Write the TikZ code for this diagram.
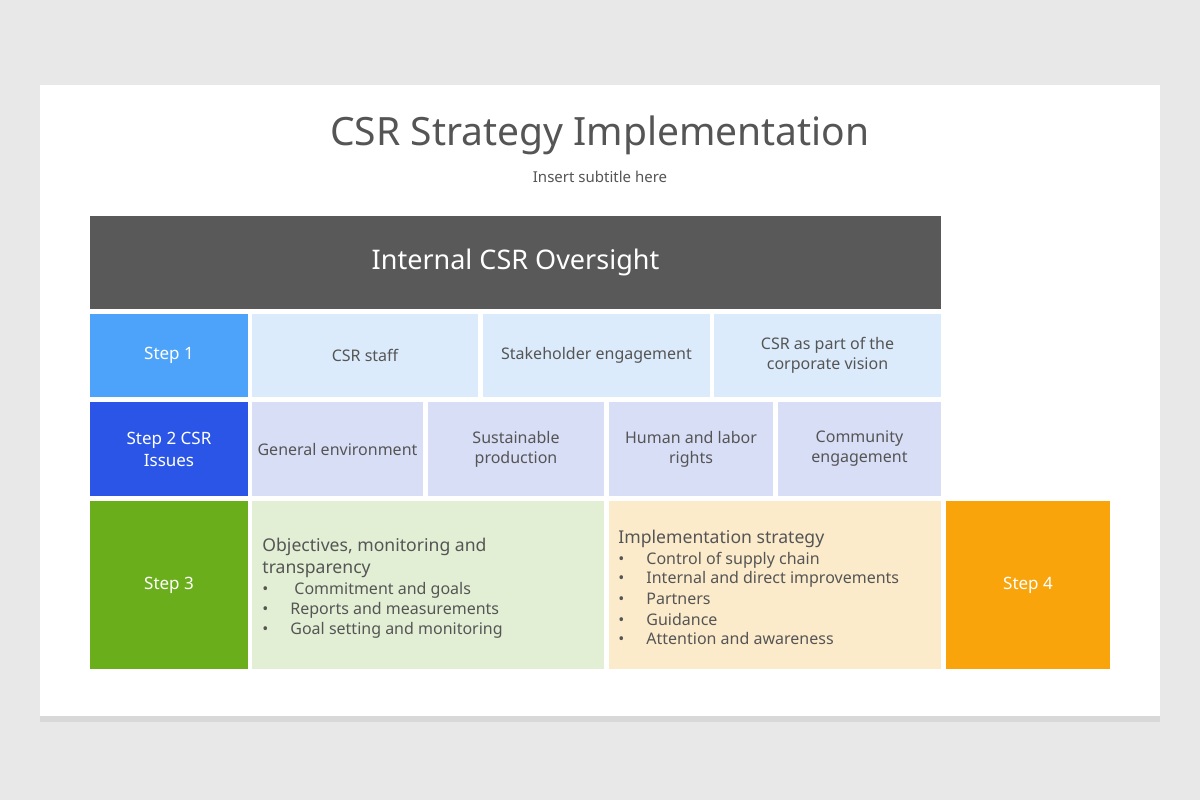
\documentclass[tikz,border=0pt]{standalone}
\usepackage{fontspec}
\setmainfont{Noto Sans}
\usetikzlibrary{shadows}
\definecolor{bg}{HTML}{E9E8E9}
\definecolor{txt}{HTML}{555555}
\definecolor{dark}{HTML}{595959}
\definecolor{s1}{HTML}{4DA3F9}
\definecolor{c1}{HTML}{DCEBFB}
\definecolor{s2}{HTML}{2A55E6}
\definecolor{c2}{HTML}{D9DEF7}
\definecolor{s3}{HTML}{6AAF1B}
\definecolor{g3}{HTML}{E2EFD4}
\definecolor{o3}{HTML}{FCEBCB}
\definecolor{s4}{HTML}{F8A40A}
\tikzset{
  lab/.style={text=txt,font=\fontsize{8}{10}\selectfont,align=center},
  stepbox/.style={text=white,font=\bfseries\fontsize{8.5}{11}\selectfont,align=center},
  li/.style={text=txt,font=\fontsize{8}{10}\selectfont,anchor=west,inner sep=0pt},
  hd/.style={text=txt,font=\bfseries\fontsize{8.8}{11}\selectfont,anchor=west,inner sep=0pt,align=left},
}
\newcommand{\cell}[6]{\fill[#5] (#1,#2) rectangle (#3,#4); \node[#6] at ({(#1+#3)/2},{(#2+#4)/2})}
\begin{document}
\begin{tikzpicture}[x=0.5pt,y=-0.5pt]
\useasboundingbox (0,0) rectangle (1200,800);
\fill[bg] (0,0) rectangle (1200,800);
\fill[white,drop shadow={opacity=0.15,shadow xshift=0pt,shadow yshift=-3pt}] (40,85) rectangle (1160,716);
\node[text=txt,font=\fontsize{19.5}{22}\selectfont] (title) at (600,135) {CSR Strategy Implementation};
\node[text=txt,font=\fontsize{7.5}{9}\selectfont] (sub) at (600,177) {Insert subtitle here};
\cell{90}{216}{941}{309}{dark}{text=white,font=\bfseries\fontsize{13.5}{16}\selectfont} (hdr) {Internal CSR Oversight};
\cell{90}{314}{248}{397}{s1}{stepbox} (st1) {Step 1};
\cell{252}{314}{478}{397}{c1}{lab} (a1) {CSR staff};
\cell{483}{314}{710}{397}{c1}{lab} (a2) {Stakeholder engagement};
\cell{714}{314}{941}{397}{c1}{lab} (a3) {CSR as part of the\\corporate vision};
\cell{90}{402}{248}{496}{s2}{stepbox} (st2) {Step 2 CSR\\Issues};
\cell{252}{402}{423}{496}{c2}{lab} (b1) {General environment};
\cell{428}{402}{604}{496}{c2}{lab} (b2) {Sustainable\\production};
\cell{609}{402}{773}{496}{c2}{lab} (b3) {Human and labor\\rights};
\cell{778}{402}{941}{496}{c2}{lab} (b4) {Community\\engagement};
\cell{90}{501}{248}{669}{s3}{stepbox} (st3) {Step 3};
\cell{252}{501}{604}{669}{g3}{lab} (g) {};
\cell{609}{501}{941}{669}{o3}{lab} (o) {};
\cell{946}{501}{1110}{669}{s4}{stepbox} (st4) {Step 4};
\node[hd] (gh1) at (262,547) {Objectives, monitoring and};
\node[hd] (gh2) at (262,570) {transparency};
\node[li] (g1) at (262,590) {•\hspace{13pt}Commitment and goals};
\node[li] (g2) at (262,610) {•\hspace{11pt}Reports and measurements};
\node[li] (g3) at (262,630) {•\hspace{11pt}Goal setting and monitoring};
\node[hd] (oh) at (618,539) {Implementation strategy};
\node[li] (o1) at (618,560) {•\hspace{11pt}Control of supply chain};
\node[li] (o2) at (618,579) {•\hspace{11pt}Internal and direct improvements};
\node[li] (o3) at (618,599) {•\hspace{11pt}Partners};
\node[li] (o4) at (618,619) {•\hspace{11pt}Guidance};
\node[li] (o5) at (618,638) {•\hspace{11pt}Attention and awareness};
\end{tikzpicture}
\end{document}
